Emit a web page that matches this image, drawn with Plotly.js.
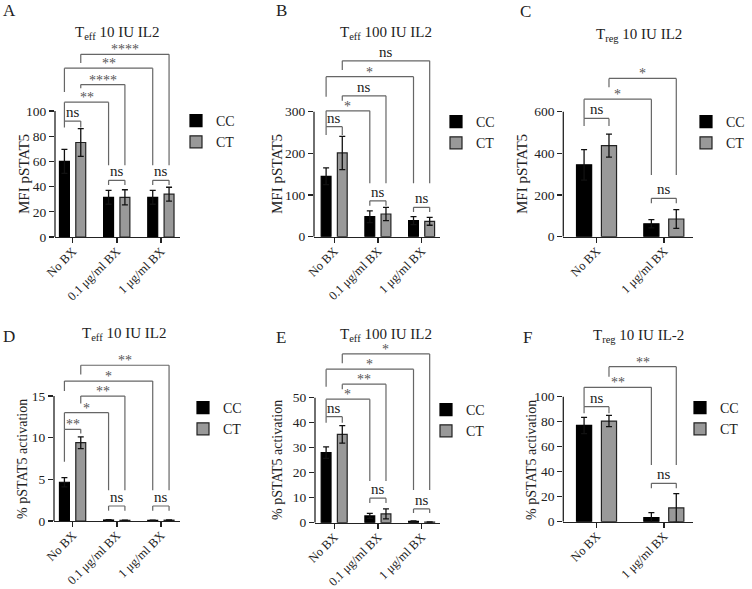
<!DOCTYPE html>
<html><head><meta charset="utf-8">
<script src="https://cdn.plot.ly/plotly-3.0.1.min.js"></script>
<style>html,body{margin:0;padding:0;background:#fff}#chart{width:752px;height:589px}</style>
</head><body><div id="chart"></div>
<script>
// ---------- data ----------
const cats3 = ['No BX', '0.1 μg/ml BX', '1 μg/ml BX'];
const cats2 = ['No BX', '1 μg/ml BX'];
const seriesNames = ['CC', 'CT'];
const panelTitles = ['T<sub>eff</sub> 10 IU IL2', 'T<sub>eff</sub> 100 IU IL2', 'T<sub>reg</sub> 10 IU IL2',
                     'T<sub>eff</sub> 10 IU IL2', 'T<sub>eff</sub> 100 IU IL2', 'T<sub>reg</sub> 10 IU IL-2'];
const panelLetters = ['A', 'B', 'C', 'D', 'E', 'F'];
const yTitleMFI = 'MFI pSTAT5';
const yTitlePct = '% pSTAT5 activation';

// A: Teff 10 IU, MFI
const aCC = [60, 31.5, 31.5], aCCerr = [9.5, 5.5, 5.5];
const aCT = [75, 31.5, 34],   aCTerr = [11, 6, 5.5];
const aTicks = [0, 20, 40, 60, 80, 100];
// B: Teff 100 IU, MFI
const bCC = [145, 48, 38.5], bCCerr = [20, 14, 9.5];
const bCT = [201, 54.5, 37], bCTerr = [40, 16, 9.5];
const bTicks = [0, 100, 200, 300];
// C: Treg 10 IU, MFI
const cCC = [345, 62], cCCerr = [73, 20];
const cCT = [437, 85], cCTerr = [55, 45];
const cTicks = [0, 200, 400, 600];
// D: Teff 10 IU, %
const dCC = [4.65, 0.12, 0.08], dCCerr = [0.55, 0.03, 0.02];
const dCT = [9.4, 0.08, 0.1],   dCTerr = [0.7, 0.02, 0.03];
const dTicks = [0, 5, 10, 15];
// E: Teff 100 IU, %
const eCC = [28, 2.7, 0.55], eCCerr = [2.3, 1.0, 0.2];
const eCT = [35.3, 3.5, 0.2], eCTerr = [3.5, 2.0, 0.1];
const eTicks = [0, 10, 20, 30, 40, 50];
// F: Treg 10 IU, %
const fCC = [77, 3.2], fCCerr = [6.5, 4];
const fCT = [80.5, 11], fCTerr = [4.5, 11.5];
const fTicks = [0, 20, 40, 60, 80, 100];

// comparison brackets: [cat1, series1, cat2, series2, yTop, yLeftEnd, yRightEnd, label]
const aBrackets = [[0,0,0,1, 92, 87, 87, 'ns'], [0,0,1,0, 107, 92, 57, '**'], [0,1,1,1, 121, 118, 57, '****'],
                   [0,0,2,0, 134, 115, 57, '**'], [0,1,2,1, 145, 138, 57, '****'],
                   [1,0,1,1, 45, 41.3, 41.3, 'ns'], [2,0,2,1, 45, 41.3, 41.3, 'ns']];
const bBrackets = [[0,0,0,1, 264, 244, 244, 'ns'], [0,0,1,0, 302, 264, 128, '*'], [0,1,1,1, 338, 326, 128, 'ns'],
                   [0,0,2,0, 384, 336, 128, '*'], [0,1,2,1, 422, 400, 128, 'ns'],
                   [1,0,1,1, 86, 74, 74, 'ns'], [2,0,2,1, 70.6, 59.3, 59.3, 'ns']];
const cBrackets = [[0,0,0,1, 568, 531, 531, 'ns'], [0,0,1,0, 660, 568, 296, '*'], [0,1,1,1, 760, 717, 296, '*'],
                   [1,0,1,1, 184, 160, 160, 'ns']];
const dBrackets = [[0,0,0,1, 11.0, 7.1, 10.5, '**'], [0,0,1,0, 13.0, 11.0, 3.7, '*'], [0,1,1,1, 15.0, 14.1, 3.7, '**'],
                   [0,0,2,0, 16.8, 15.6, 3.7, '*'], [0,1,2,1, 18.7, 17.6, 3.7, '**'],
                   [1,0,1,1, 1.8, 1.24, 1.24, 'ns'], [2,0,2,1, 1.8, 1.24, 1.24, 'ns']];
const eBrackets = [[0,0,0,1, 42.4, 40, 40, 'ns'], [0,0,1,0, 49.4, 42.4, 16.7, '*'], [0,1,1,1, 55.4, 53.4, 16.7, '**'],
                   [0,0,2,0, 61.4, 54.4, 13.1, '*'], [0,1,2,1, 67.5, 63.8, 13.1, '*'],
                   [1,0,1,1, 9.8, 7.9, 7.9, 'ns'], [2,0,2,1, 5.5, 3.9, 3.9, 'ns']];
const fBrackets = [[0,0,0,1, 92, 86.7, 86.7, 'ns'], [0,0,1,0, 107.5, 92, 45.4, '**'], [0,1,1,1, 124, 116, 45.4, '**'],
                   [1,0,1,1, 30.7, 26.7, 26.7, 'ns']];

// ---------- layout geometry (pixels) ----------
const W = 752, H = 589;
const FONT = 'Liberation Serif, Times New Roman, serif';
const OFF = [-0.30, 0.07], BW = 0.225;
const CENTER = [OFF[0] + BW / 2, OFF[1] + BW / 2];

const panels = [
  {cats: cats3, vals: [aCC, aCT], errs: [aCCerr, aCTerr], ticks: aTicks, br: aBrackets, yt: yTitleMFI, ytSize: 15,
   g: {x0: 55, x1: 180, c0: 72.7, sp: 44.15, y0: 237, ppu: 1.26, ymax: 152},
   pos: {t: [117, 33], l: [9, 11], yt: [24, 174], lg: [176, 105]}},
  {cats: cats3, vals: [bCC, bCT], errs: [bCCerr, bCTerr], ticks: bTicks, br: bBrackets, yt: yTitleMFI, ytSize: 15,
   g: {x0: 314, x1: 440, c0: 334.3, sp: 43.7, y0: 236.7, ppu: 0.4167, ymax: 445},
   pos: {t: [386, 33], l: [281, 11], yt: [277, 174], lg: [436, 106]}},
  {cats: cats2, vals: [cCC, cCT], errs: [cCCerr, cCTerr], ticks: cTicks, br: cBrackets, yt: yTitleMFI, ytSize: 15,
   g: {x0: 563.3, x1: 693, c0: 596.7, sp: 67.3, y0: 236.7, ppu: 0.2083, ymax: 800},
   pos: {t: [639, 35], l: [525, 12], yt: [522, 174], lg: [686, 106]}},
  {cats: cats3, vals: [dCC, dCT], errs: [dCCerr, dCTerr], ticks: dTicks, br: dBrackets, yt: yTitlePct, ytSize: 14,
   g: {x0: 54, x1: 180, c0: 72.7, sp: 44.15, y0: 521, ppu: 8.33, ymax: 20},
   pos: {t: [124, 334], l: [9, 336], yt: [22, 459], lg: [183, 392]}},
  {cats: cats3, vals: [eCC, eCT], errs: [eCCerr, eCTerr], ticks: eTicks, br: eBrackets, yt: yTitlePct, ytSize: 14,
   g: {x0: 315, x1: 440, c0: 334.3, sp: 43.7, y0: 522.7, ppu: 2.5, ymax: 70},
   pos: {t: [386, 335], l: [281, 337], yt: [277, 460], lg: [426, 394]}},
  {cats: cats2, vals: [fCC, fCT], errs: [fCCerr, fCTerr], ticks: fTicks, br: fBrackets, yt: yTitlePct, ytSize: 14,
   g: {x0: 563.3, x1: 693, c0: 596.7, sp: 67.3, y0: 521.7, ppu: 1.25, ymax: 130},
   pos: {t: [638, 336], l: [527, 337], yt: [531, 460], lg: [680, 392]}}
];

const barFill = ['#000000', '#999999'];
const barLine = ['#000000', '#222222'];
const traces = [], shapes = [], annotations = [];
const layout = {
  width: W, height: H, margin: {l: 0, r: 0, t: 0, b: 0},
  paper_bgcolor: '#fff', plot_bgcolor: 'rgba(0,0,0,0)',
  barmode: 'group', font: {family: FONT, color: '#222'}
};

panels.forEach((p, k) => {
  const n = k + 1, s = n === 1 ? '' : String(n);
  const xa = 'x' + s, ya = 'y' + s, lg = 'legend' + s;
  const g = p.g;
  layout['xaxis' + s] = {
    domain: [g.x0 / W, g.x1 / W], range: [(g.x0 - g.c0) / g.sp, (g.x1 - g.c0) / g.sp],
    type: 'category', anchor: ya, showline: true, linecolor: '#222', linewidth: 1.3,
    ticks: 'outside', ticklen: 5, tickwidth: 1.3, tickcolor: '#222', tickangle: -45, ticklabelstandoff: -4,
    tickfont: {family: FONT, size: 12.5, color: '#222'}, showgrid: false, zeroline: false, fixedrange: true
  };
  layout['yaxis' + s] = {
    domain: [1 - g.y0 / H, 1 - (g.y0 - g.ymax * g.ppu) / H], range: [0, g.ymax],
    anchor: xa, showline: false, tickmode: 'array', tickvals: p.ticks,
    ticks: 'outside', ticklen: 5, tickwidth: 1.3, tickcolor: '#222',
    tickfont: {family: FONT, size: 13.5, color: '#222'}, showgrid: false, zeroline: false, fixedrange: true
  };
  layout[lg] = {
    x: p.pos.lg[0] / W, y: 1 - p.pos.lg[1] / H, xanchor: 'left', yanchor: 'top',
    bgcolor: 'rgba(0,0,0,0)', font: {family: FONT, size: 14, color: '#222'}, tracegroupgap: 0
  };
  [0, 1].forEach(si => {
    traces.push({
      type: 'bar', x: p.cats, y: p.vals[si], name: seriesNames[si], xaxis: xa, yaxis: ya, legend: lg,
      offset: OFF[si], width: BW,
      marker: {color: barFill[si], line: {color: barLine[si], width: 1.2}},
      error_y: {type: 'data', array: p.errs[si], visible: true, color: '#111', thickness: 1.3, width: 3},
      hoverinfo: 'skip'
    });
  });
  // y axis line only over the tick range
  shapes.push({type: 'line', xref: xa + ' domain', yref: ya, x0: 0, x1: 0, y0: 0, y1: p.ticks[p.ticks.length - 1],
               line: {color: '#222', width: 1.3}});
  // brackets
  p.br.forEach(b => {
    const xl = b[0] + CENTER[b[1]], xr = b[2] + CENTER[b[3]];
    const ln = {color: '#666', width: 1.2};
    shapes.push({type: 'line', xref: xa, yref: ya, x0: xl, x1: xl, y0: b[5], y1: b[4], line: ln});
    shapes.push({type: 'line', xref: xa, yref: ya, x0: xl, x1: xr, y0: b[4], y1: b[4], line: ln});
    shapes.push({type: 'line', xref: xa, yref: ya, x0: xr, x1: xr, y0: b[4], y1: b[6], line: ln});
    const isNs = b[7] === 'ns';
    annotations.push({xref: xa, yref: ya, x: (xl + xr) / 2, y: b[4], text: b[7], showarrow: false,
      xanchor: 'center', yanchor: 'bottom', yshift: isNs ? -1 : -5,
      font: {family: FONT, size: isNs ? 15 : 14, color: isNs ? '#222' : '#555'}});
  });
  // titles, letters, y titles
  annotations.push({xref: 'paper', yref: 'paper', x: p.pos.t[0] / W, y: 1 - p.pos.t[1] / H, text: panelTitles[k],
    showarrow: false, xanchor: 'center', yanchor: 'middle', font: {family: FONT, size: 15, color: '#222'}});
  annotations.push({xref: 'paper', yref: 'paper', x: p.pos.l[0] / W, y: 1 - p.pos.l[1] / H, text: panelLetters[k],
    showarrow: false, xanchor: 'center', yanchor: 'middle', font: {family: FONT, size: 17, color: '#222'}});
  annotations.push({xref: 'paper', yref: 'paper', x: p.pos.yt[0] / W, y: 1 - p.pos.yt[1] / H, text: p.yt,
    textangle: -90, showarrow: false, xanchor: 'center', yanchor: 'middle',
    font: {family: FONT, size: p.ytSize, color: '#222'}});
});
layout.shapes = shapes;
layout.annotations = annotations;

Plotly.newPlot('chart', traces, layout, {staticPlot: true, displayModeBar: false});
</script>
</body></html>
